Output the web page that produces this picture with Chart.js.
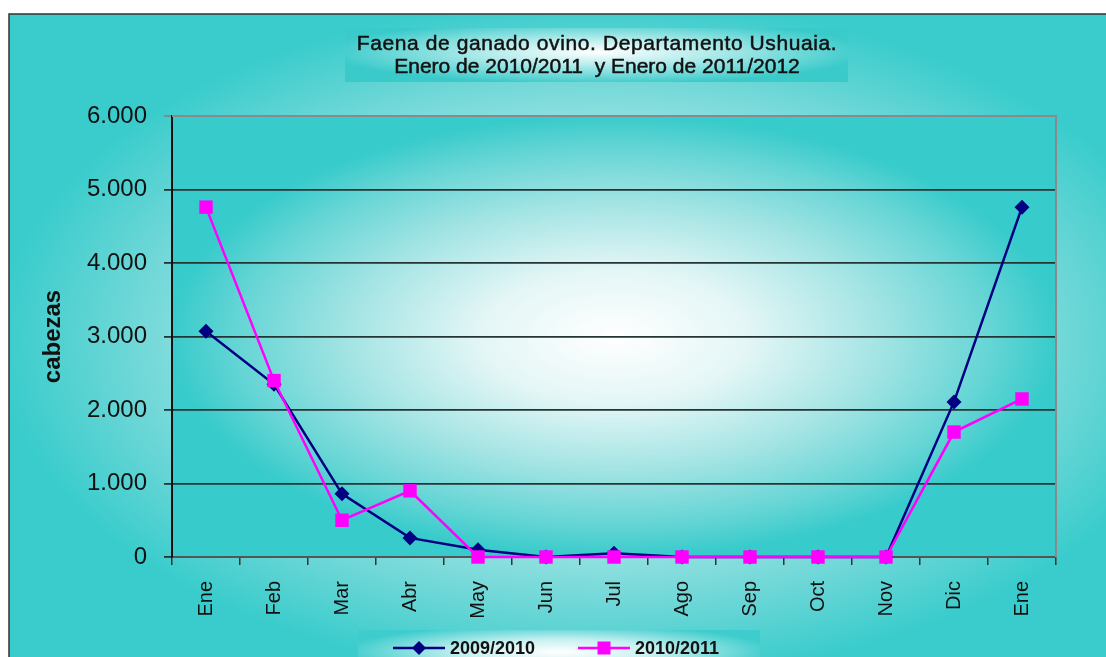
<!DOCTYPE html>
<html>
<head>
<meta charset="utf-8">
<title>Faena de ganado ovino</title>
<script src="https://cdn.jsdelivr.net/npm/chart.js@4/dist/chart.umd.min.js"></script>
<style>
  html, body { margin: 0; padding: 0; background: #ffffff; }
  #chartWrap { width: 1106px; height: 657px; }
</style>
</head>
<body>
<div id="chartWrap"><canvas id="chartFaena" width="1106" height="657"></canvas></div>
<script>
// Datos (cabezas faenadas por mes)
var meses = ["Ene", "Feb", "Mar", "Abr", "May", "Jun", "Jul", "Ago", "Sep", "Oct", "Nov", "Dic", "Ene"];
var serie0910 = [3070, 2350, 860, 260, 100, 0, 50, 0, 0, 0, 0, 2110, 4760];
var serie1011 = [4760, 2400, 500, 900, 0, 0, 0, 0, 0, 0, 0, 1700, 2150];
var nombres = ["2009/2010", "2010/2011"];
var tituloLineas = ["Faena de ganado ovino. Departamento Ushuaia.", "Enero de 2010/2011  y Enero de 2011/2012"];
var yTicks = [0, 1000, 2000, 3000, 4000, 5000, 6000];

(function () {
    "use strict";

    var FONT = "'Liberation Sans', Arial, sans-serif";

    function miles(v) {
        return String(v).replace(/\B(?=(\d{3})+(?!\d))/g, ".");
    }

    // gradiente radial elíptico (centro claro, bordes turquesa)
    function fillGrad(ctx, x, y, w, h, cx, cy, rx, ry, stops) {
        ctx.save();
        ctx.translate(cx, cy);
        ctx.scale(rx / ry, 1);
        var g = ctx.createRadialGradient(0, 0, 0, 0, 0, ry);
        stops.forEach(function (s) { g.addColorStop(s[0], s[1]); });
        ctx.fillStyle = g;
        var k = ry / rx;
        ctx.fillRect((x - cx) * k, y - cy, w * k, h);
        ctx.restore();
    }

    function textoGrueso(ctx, txt, x, y, espacio) {
        ctx.letterSpacing = espacio + "px";
        ctx.fillText(txt, x, y);
        ctx.lineWidth = 0.5;
        ctx.strokeStyle = ctx.fillStyle;
        ctx.strokeText(txt, x, y);
        ctx.letterSpacing = "0px";
    }

    var fondoPlugin = {
        id: "fondo",
        beforeDraw: function (chart) {
            var ctx = chart.ctx;
            var a = chart.chartArea;
            ctx.save();
            ctx.fillStyle = "#ffffff";
            ctx.fillRect(0, 0, chart.width, chart.height);
            // fondo exterior
            fillGrad(ctx, 9, 14, chart.width, chart.height, 600, 340, 600, 340, [
                [0, "#eefafa"], [0.55, "#a6e5e5"], [0.8, "#6ad6d6"], [1, "#3acccc"]
            ]);
            ctx.strokeStyle = "#333333";
            ctx.lineWidth = 1.5;
            ctx.strokeRect(9, 14, chart.width + 20, chart.height + 20);
            // área de trazado
            var cx = (a.left + a.right) / 2, cy = (a.top + a.bottom) / 2;
            fillGrad(ctx, a.left, a.top, a.right - a.left, a.bottom - a.top, cx, cy,
                (a.right - a.left) / 2, (a.bottom - a.top) / 2, [
                    [0, "#ffffff"], [0.3, "#e4f6f6"], [0.6, "#a4e4e4"], [0.85, "#66d5d5"], [1, "#38cbcb"]
                ]);
            ctx.restore();
        },
        beforeDatasetsDraw: function (chart) {
            var ctx = chart.ctx;
            var a = chart.chartArea;
            ctx.save();
            ctx.strokeStyle = "#8a8a8a";
            ctx.lineWidth = 2;
            ctx.beginPath();
            ctx.moveTo(a.left, a.top);
            ctx.lineTo(a.right, a.top);
            ctx.lineTo(a.right, a.bottom);
            ctx.stroke();
            ctx.restore();
        },
        afterDraw: function (chart) {
            var ctx = chart.ctx;
            ctx.save();
            // título
            fillGrad(ctx, 345, 28, 503, 54, 597, 52, 270, 32, [
                [0, "#ffffff"], [0.4, "#b6ecec"], [1, "#3acaca"]
            ]);
            ctx.fillStyle = "#111111";
            ctx.font = "21px " + FONT;
            ctx.textAlign = "center";
            ctx.textBaseline = "middle";
            textoGrueso(ctx, tituloLineas[0], 597, 44, 0.6);
            textoGrueso(ctx, tituloLineas[1], 597, 67, 0);

            // leyenda
            fillGrad(ctx, 358, 630, 402, 40, 559, 652, 215, 28, [
                [0, "#ffffff"], [0.45, "#c6f0f0"], [1, "#3ecccc"]
            ]);
            var xs = [393, 578];
            ctx.font = "bold 18px " + FONT;
            ctx.textAlign = "left";
            chart.data.datasets.forEach(function (ds) {
                var x = xs[ds.legendPos];
                var y = 648;
                ctx.strokeStyle = ds.borderColor;
                ctx.lineWidth = 2.5;
                ctx.beginPath();
                ctx.moveTo(x, y);
                ctx.lineTo(x + 52, y);
                ctx.stroke();
                ctx.fillStyle = ds.pointBackgroundColor;
                ctx.beginPath();
                if (ds.pointStyle === "rect") {
                    ctx.rect(x + 26 - 6.5, y - 6.5, 13, 13);
                } else {
                    ctx.moveTo(x + 26, y - 7);
                    ctx.lineTo(x + 33, y);
                    ctx.lineTo(x + 26, y + 7);
                    ctx.lineTo(x + 19, y);
                    ctx.closePath();
                }
                ctx.fill();
                ctx.fillStyle = "#111111";
                ctx.fillText(ds.label, x + 57, y + 1);
            });
            ctx.restore();
        }
    };

    function init() {
        var canvas = document.getElementById("chartFaena");
        new Chart(canvas, {
            type: "line",
            data: {
                labels: meses,
                datasets: [
                    {
                        label: nombres[1], data: serie1011, legendPos: 1, order: 1, clip: false,
                        borderColor: "#ff00ff", backgroundColor: "#ff00ff",
                        pointBackgroundColor: "#ff00ff", pointBorderColor: "#ff00ff",
                        pointStyle: "rect", pointRadius: 9.5, pointBorderWidth: 0,
                        borderWidth: 2.5, tension: 0, fill: false
                    },
                    {
                        label: nombres[0], data: serie0910, legendPos: 0, order: 2, clip: false,
                        borderColor: "#000080", backgroundColor: "#000080",
                        pointBackgroundColor: "#000080", pointBorderColor: "#000080",
                        pointStyle: "rectRot", pointRadius: 7.5, pointBorderWidth: 0,
                        borderWidth: 2.5, tension: 0, fill: false
                    }
                ]
            },
            options: {
                responsive: false,
                animation: false,
                layout: { padding: { left: 0, top: 116, right: 50, bottom: 0 } },
                plugins: {
                    legend: { display: false },
                    title: { display: false },
                    tooltip: { enabled: false }
                },
                scales: {
                    x: {
                        offset: true,
                        grid: { offset: true, drawOnChartArea: false, tickLength: 8, color: "#333333", lineWidth: 1.5 },
                        border: { color: "#555555", width: 2 },
                        ticks: {
                            maxRotation: 90, minRotation: 90, padding: 16, autoSkip: false,
                            color: "#111111", font: { family: FONT, size: 20 }
                        },
                        afterFit: function (scale) { scale.height = 100; }
                    },
                    y: {
                        min: 0, max: 6000,
                        afterBuildTicks: function (scale) {
                            scale.ticks = yTicks.map(function (v) { return { value: v }; });
                        },
                        grid: {
                            tickLength: 8, lineWidth: 1.8,
                            color: function (c) { return c.tick && c.tick.value === 6000 ? "#7a8a8a" : "#253535"; }
                        },
                        border: { color: "#111111", width: 2 },
                        ticks: {
                            padding: 17, color: "#111111",
                            font: { family: FONT, size: 24 },
                            callback: function (v) { return miles(v); }
                        },
                        title: {
                            display: true, text: "cabezas", color: "#111111",
                            font: { family: FONT, size: 24, weight: "bold" },
                            padding: { top: 39, bottom: 0 }
                        },
                        afterFit: function (scale) { scale.width = 172; }
                    }
                }
            },
            plugins: [fondoPlugin]
        });
    }

    if (document.readyState === "loading") {
        document.addEventListener("DOMContentLoaded", init);
    } else {
        init();
    }
})();
</script>
</body>
</html>
